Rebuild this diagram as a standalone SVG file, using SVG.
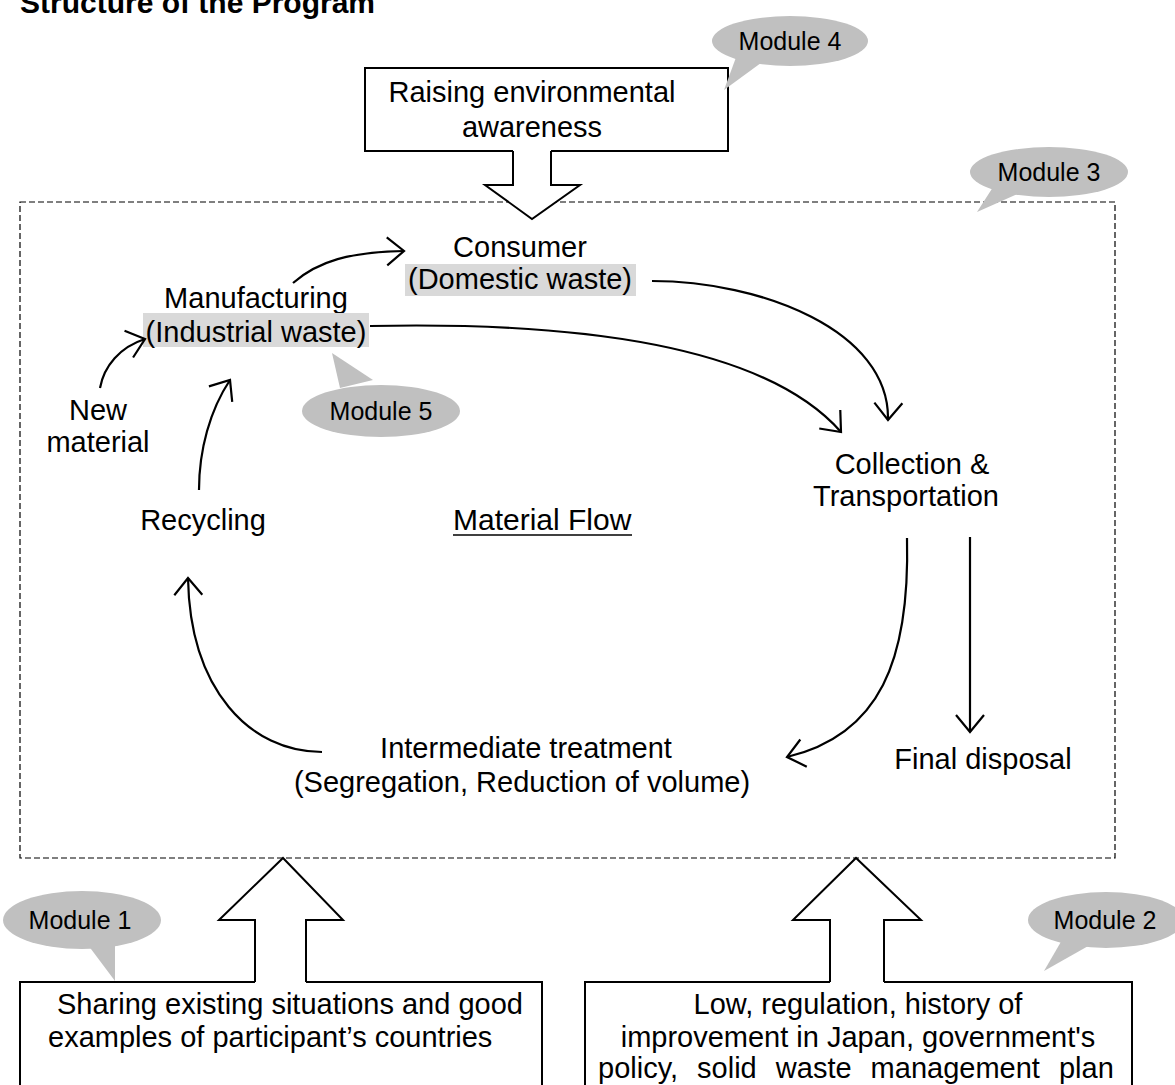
<svg xmlns="http://www.w3.org/2000/svg" width="1175" height="1085" viewBox="0 0 1175 1085">
<style>
  text { font-family: "Liberation Sans", Arial, sans-serif; fill: #000; }
  .t { font-size: 29px; }
  .m { font-size: 25px; }
  .mid { text-anchor: middle; }
  .bubble { fill: #c0c0c0; stroke: none; }
  .hl { fill: #d9d9d9; stroke: none; }
  .box { fill: #fff; stroke: #000; stroke-width: 2; }
  .blk { fill: #fff; stroke: none; }
  .blkline { fill: none; stroke: #000; stroke-width: 2; stroke-linejoin: miter; }
  .flow { fill: none; stroke: #000; stroke-width: 2.2; marker-end: url(#open); }
</style>
<defs>
  <marker id="open" markerUnits="userSpaceOnUse" markerWidth="40" markerHeight="40" viewBox="-20 -20 40 40" refX="0" refY="0" orient="auto" overflow="visible">
    <path d="M -17 -14 L 0 0 L -17 14" fill="none" stroke="#000" stroke-width="2.2"/>
  </marker>
</defs>

<text x="20" y="13" style="font-size:30px;font-weight:bold">Structure of the Program</text>

<g id="module3-area">
  <rect x="20" y="202" width="1095" height="656" fill="none" stroke="#000" stroke-width="1.2" stroke-dasharray="6 3"/>
</g>

<g id="awareness">
  <rect class="box" x="365" y="68" width="363" height="83"/>
  <text class="t mid" x="532" y="102">Raising environmental</text>
  <text class="t mid" x="532" y="137">awareness</text>
  <path class="blk" d="M513 150 L513 185 L485 185 L532 219 L580 185 L551 185 L551 150 Z"/>
  <polyline class="blkline" points="513,151 513,185 485,185 532,219 580,185 551,185 551,151"/>
</g>

<g id="module4">
  <polygon class="bubble" points="724,90 738,52 765,60"/>
  <ellipse class="bubble" cx="790" cy="41" rx="78" ry="25"/>
  <text class="m mid" x="790" y="50">Module 4</text>
</g>

<g id="module3">
  <polygon class="bubble" points="977,212 995,184 1022,192"/>
  <ellipse class="bubble" cx="1049" cy="172" rx="79" ry="25"/>
  <text class="m mid" x="1049" y="181">Module 3</text>
</g>

<g id="consumer">
  <text class="t mid" x="520" y="257">Consumer</text>
  <rect class="hl" x="405" y="264" width="231" height="32"/>
  <text class="t mid" x="520" y="289">(Domestic waste)</text>
</g>

<g id="manufacturing">
  <text class="t mid" x="256" y="308">Manufacturing</text>
  <rect class="hl" x="143" y="313" width="226" height="34"/>
  <text class="t mid" x="256" y="342">(Industrial waste)</text>
</g>

<g id="module5">
  <polygon class="bubble" points="332,353 340,388 373,380"/>
  <ellipse class="bubble" cx="381" cy="411" rx="79" ry="26"/>
  <text class="m mid" x="381" y="420">Module 5</text>
</g>

<g id="new-material">
  <text class="t mid" x="98" y="420">New</text>
  <text class="t mid" x="98" y="452">material</text>
</g>

<g id="recycling">
  <text class="t mid" x="203" y="530">Recycling</text>
</g>

<g id="material-flow">
  <text x="453" y="530" style="font-size:30px">Material Flow</text>
  <line x1="453" y1="535" x2="632" y2="535" stroke="#000" stroke-width="1.6"/>
</g>

<g id="collection">
  <text class="t mid" x="912" y="474">Collection &amp;</text>
  <text class="t mid" x="906" y="506">Transportation</text>
</g>

<g id="intermediate">
  <text class="t mid" x="526" y="758">Intermediate treatment</text>
  <text class="t mid" x="522" y="792">(Segregation, Reduction of volume)</text>
</g>

<g id="final-disposal">
  <text class="t mid" x="983" y="769">Final disposal</text>
</g>

<g id="connectors">
  <path class="flow" d="M293 283 C318 261 350 252 404 251"/>
  <path class="flow" d="M100 388 C104 366 120 347 145 339"/>
  <path class="flow" d="M199 490 C199 450 210 410 230 380"/>
  <path class="flow" d="M370 326 C560 322 760 340 841 432"/>
  <path class="flow" d="M652 281 C760 281 890 330 888 420"/>
  <path class="flow" d="M907 538 C910 660 880 735 787 757"/>
  <path class="flow" d="M970 537 L970 732"/>
  <path class="flow" d="M322 752 C250 752 190 690 188 578"/>
</g>

<g id="sharing">
  <rect class="box" x="20" y="982" width="522" height="120"/>
  <path class="blk" d="M255 984 L255 920 L219 920 L283 858 L343 920 L306 920 L306 984 Z"/>
  <polyline class="blkline" points="255,982 255,920 219,920 283,858 343,920 306,920 306,982"/>
  <text class="t" x="57" y="1014">Sharing existing situations and good</text>
  <text class="t" x="48" y="1047">examples of participant’s countries</text>
</g>

<g id="module1">
  <polygon class="bubble" points="115,981 88,945 115,945"/>
  <ellipse class="bubble" cx="82" cy="920" rx="79" ry="29"/>
  <text class="m mid" x="80" y="929">Module 1</text>
</g>

<g id="law">
  <rect class="box" x="585" y="982" width="547" height="120"/>
  <path class="blk" d="M830 984 L830 920 L793 920 L856 858 L921 920 L884 920 L884 984 Z"/>
  <polyline class="blkline" points="830,982 830,920 793,920 856,858 921,920 884,920 884,982"/>
  <text class="t mid" x="858" y="1014">Low, regulation, history of</text>
  <text class="t mid" x="858" y="1047">improvement in Japan, government's</text>
  <text class="t" x="598" y="1078" style="word-spacing:11px">policy, solid waste management plan</text>
</g>

<g id="module2">
  <polygon class="bubble" points="1044,971 1062,940 1090,945"/>
  <ellipse class="bubble" cx="1106" cy="920" rx="78" ry="28"/>
  <text class="m mid" x="1105" y="929">Module 2</text>
</g>
</svg>
